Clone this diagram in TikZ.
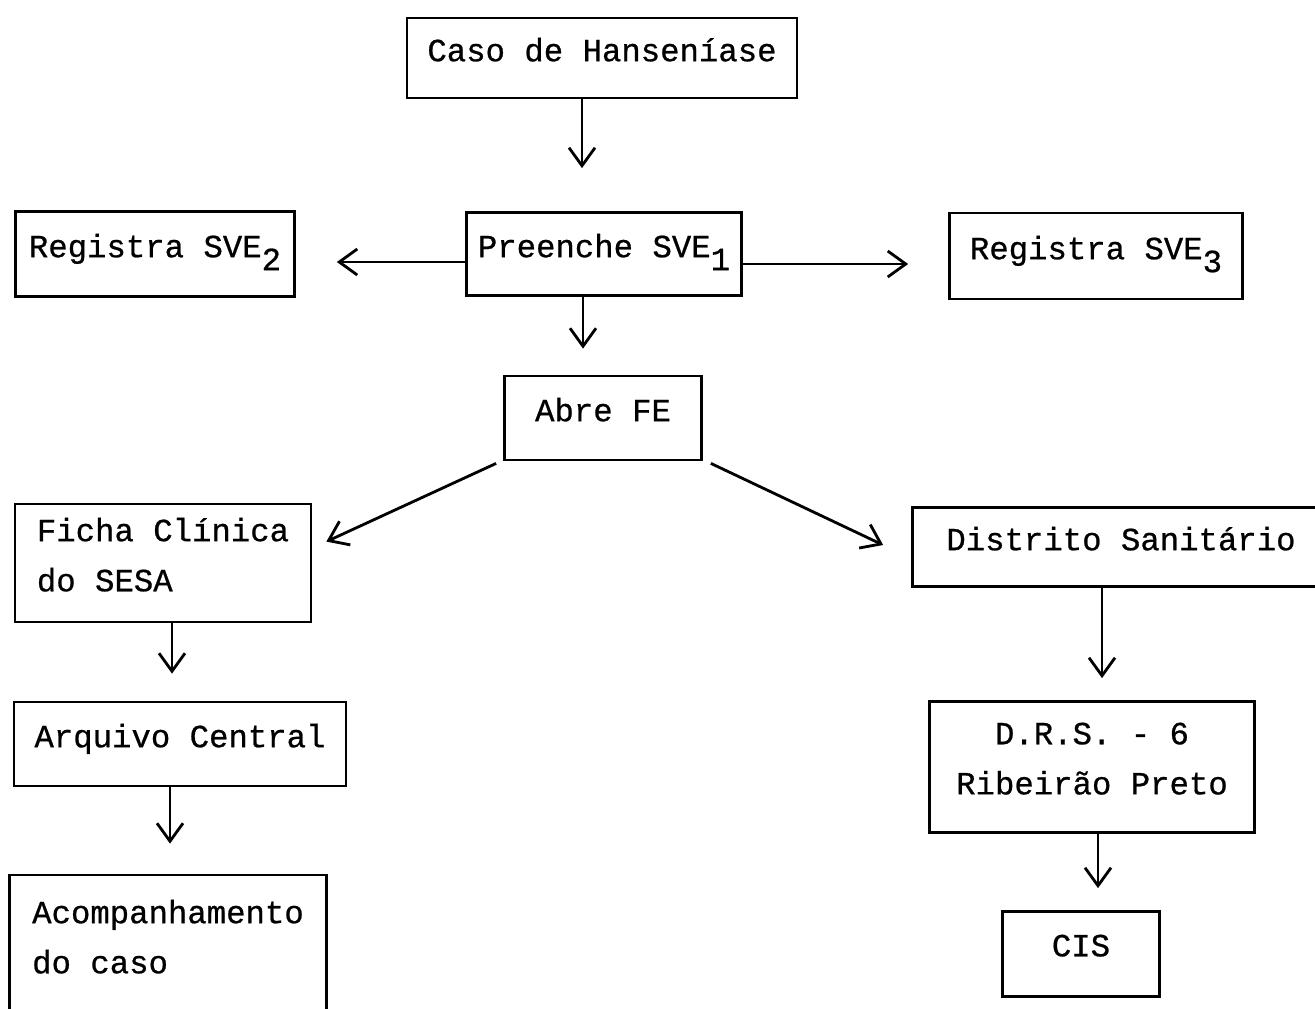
\documentclass[tikz,border=0pt]{standalone}
\usepackage{fontspec}
\newfontfamily\maquina[FakeBold=0.7]{Liberation Mono}
\usetikzlibrary{positioning,calc,arrows.meta}

\newcommand{\idx}[1]{\raisebox{-0.4em}{#1}}

\begin{document}
\begin{tikzpicture}[x=0.02cm, y=-0.02cm,
    caixa/.style={draw, line width=1.6pt, inner sep=0pt, text depth=0.34cm,
        font=\maquina\fontsize{18.4}{28.5}\selectfont},
    seta/.style={line width=1.6pt, -{Straight Barb[length=0.36cm, width=0.52cm]}}]
            \useasboundingbox (0,0) rectangle (1315,1008);

            \node[caixa, minimum width=7.8cm, minimum height=1.6cm] (caso) at (602,58) {Caso de Hanseníase};

            \node[caixa, minimum width=5.5cm, minimum height=1.66cm] (preenche) at (604,254) {Preenche SVE\idx{1}};
            \node[caixa, minimum width=5.58cm, minimum height=1.7cm] (sve2) at (155,254) {Registra SVE\idx{2}};
            \node[caixa, minimum width=5.86cm, minimum height=1.72cm] (sve3) at (1096,256) {Registra SVE\idx{3}};

            \node[caixa, minimum width=3.94cm, minimum height=1.68cm] (abre) at (603,418) {Abre FE};

            \node[caixa, align=left, minimum width=5.92cm, minimum height=2.36cm] (ficha) at (163,563) {Ficha Clínica\\do SESA};
            \node[caixa, minimum width=6.64cm, minimum height=1.68cm] (arquivo) at (180,744) {Arquivo Central};
            \node[caixa, align=left, minimum width=6.34cm, minimum height=2.8cm] (acomp) at (168,945) {Acompanhamento\\do caso};

            \node[caixa, minimum width=8.34cm, minimum height=1.58cm] (distrito) at (1121,547) {Distrito Sanitário};
            \node[caixa, align=center, minimum width=6.5cm, minimum height=2.62cm] (drs) at (1092,767) {D.R.S. - 6\\Ribeirão Preto};
            \node[caixa, minimum width=3.14cm, minimum height=1.7cm] (cis) at (1081,954) {CIS};

            % setas
            \draw[seta, shorten >=0.86cm] ([xshift=-0.4cm]caso.south) -- ([xshift=-0.4cm]caso.south |- preenche.north);
            \draw[seta, shorten >=0.82cm] ([yshift=-0.16cm]preenche.west) -- ([yshift=-0.16cm]preenche.west -| sve2.east);
            \draw[seta, shorten >=0.8cm] ([yshift=-0.2cm]preenche.east) -- ([yshift=-0.2cm]preenche.east -| sve3.west);
            \draw[seta, shorten >=0.52cm] ([xshift=-0.42cm]preenche.south) -- ([xshift=-0.42cm]preenche.south |- abre.north);

            \draw[seta] ($(abre.south west)+(-7,2)$) -- ($(ficha.north east)+(14,39)$);
            \draw[seta] ($(abre.south east)+(8,2)$) -- ($(distrito.west)+(-28,-2)$);

            \draw[seta, shorten >=0.54cm] ([xshift=0.18cm]ficha.south) -- ([xshift=0.18cm]ficha.south |- arquivo.north);
            \draw[seta, shorten >=0.6cm] ([xshift=-0.2cm]arquivo.south) -- ([xshift=-0.2cm]arquivo.south |- acomp.north);

            \draw[seta, shorten >=0.44cm] ([xshift=0.2cm]drs.north |- distrito.south) -- ([xshift=0.2cm]drs.north);
            \draw[seta, shorten >=0.44cm] ([xshift=0.12cm]drs.south) -- ([xshift=0.12cm]drs.south |- cis.north);
          \end{tikzpicture}
\end{document}
